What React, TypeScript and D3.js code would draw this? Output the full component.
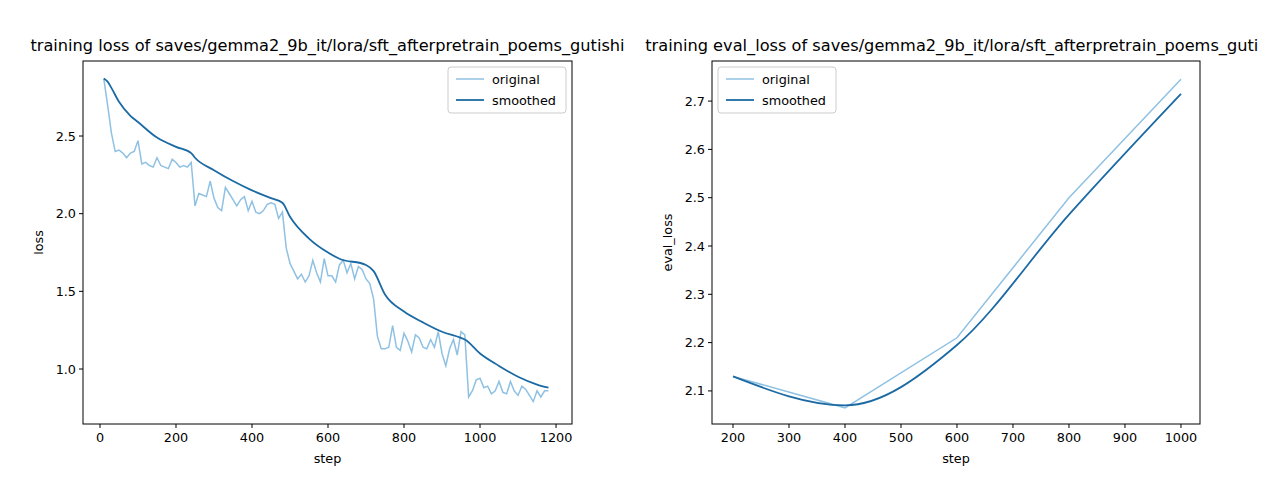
import React from 'react';
import * as d3 from 'd3';

// training loss, original (every 10 steps from 10)
const lossSteps = d3.range(10, 1181, 10);
const lossOriginal = [
  2.87, 2.70, 2.52, 2.40, 2.41, 2.39, 2.36, 2.39, 2.40, 2.47,
  2.32, 2.33, 2.31, 2.30, 2.36, 2.31, 2.30, 2.29, 2.35, 2.33,
  2.30, 2.31, 2.30, 2.33, 2.05, 2.13, 2.12, 2.11, 2.21, 2.10,
  2.04, 2.02, 2.17, 2.13, 2.09, 2.05, 2.09, 2.11, 2.02, 2.08,
  2.01, 2.00, 2.02, 2.06, 2.07, 2.06, 1.97, 2.01, 1.78, 1.68,
  1.63, 1.58, 1.61, 1.56, 1.60, 1.70, 1.62, 1.56, 1.71, 1.60,
  1.60, 1.56, 1.67, 1.70, 1.62, 1.68, 1.58, 1.66, 1.64, 1.58,
  1.55, 1.45, 1.21, 1.13, 1.13, 1.14, 1.28, 1.14, 1.12, 1.23,
  1.18, 1.11, 1.22, 1.20, 1.14, 1.13, 1.19, 1.14, 1.24, 1.10,
  1.02, 1.13, 1.19, 1.09, 1.24, 1.22, 0.82, 0.86, 0.93, 0.94,
  0.88, 0.89, 0.84, 0.86, 0.92, 0.85, 0.84, 0.92, 0.86, 0.83,
  0.89, 0.87, 0.83, 0.79, 0.86, 0.82, 0.86, 0.86,
];
const smoothSteps = [10, 20, 30, 50, 80, 100, 150, 200, 240, 250, 300, 350, 400, 450, 480, 500, 550, 600, 630, 700, 720, 750, 800, 850, 900, 950, 960, 1000, 1050, 1100, 1150, 1180];
const smoothValues = [2.87, 2.85, 2.81, 2.72, 2.63, 2.59, 2.49, 2.43, 2.39, 2.36, 2.28, 2.21, 2.15, 2.10, 2.07, 1.98, 1.84, 1.75, 1.71, 1.67, 1.63, 1.48, 1.37, 1.30, 1.24, 1.20, 1.19, 1.10, 1.02, 0.95, 0.90, 0.88];

const evalSteps = [200, 400, 600, 800, 1000];
const evalOriginal = [2.13, 2.065, 2.21, 2.50, 2.745];
const evalSmoothed = [2.13, 2.07, 2.195, 2.465, 2.715];

const leftTicksY = [1.0, 1.5, 2.0, 2.5];
const leftTicksX = [0, 200, 400, 600, 800, 1000, 1200];
const rightTicksY = [2.1, 2.2, 2.3, 2.4, 2.5, 2.6, 2.7];
const rightTicksX = [200, 300, 400, 500, 600, 700, 800, 900, 1000];

const LIGHT = '#8fc1e3';
const DARK = '#1c6aa3';
const FONT = 'DejaVu Sans, sans-serif';

type PanelProps = {
  x0: number; x1: number; y0: number; y1: number;
  xDomain: [number, number]; yDomain: [number, number];
  xTicks: number[]; yTicks: number[]; yFmt: (v: number) => string;
  title: string; ylabel: string; legendRight: boolean;
  orig: [number, number][]; smooth: [number, number][];
};

function Panel(p: PanelProps) {
  const x = d3.scaleLinear().domain(p.xDomain).range([p.x0, p.x1]);
  const y = d3.scaleLinear().domain(p.yDomain).range([p.y1, p.y0]);
  const line = d3.line<[number, number]>().x((d) => x(d[0])).y((d) => y(d[1]));
  return (
    <g fontFamily={FONT}>
      <text x={(p.x0 + p.x1) / 2} y={51} textAnchor="middle" fontSize={16.2}>{p.title}</text>
      <path d={line(p.orig) || ''} fill="none" stroke={LIGHT} strokeWidth={1.5} />
      <path d={line.curve(d3.curveMonotoneX)(p.smooth) || ''} fill="none" stroke={DARK} strokeWidth={1.8} />
      <rect x={p.x0} y={p.y0} width={p.x1 - p.x0} height={p.y1 - p.y0} fill="none" stroke="#000" strokeWidth={1} />
      {p.xTicks.map((t) => (
        <g key={t}>
          <line x1={x(t)} x2={x(t)} y1={p.y1} y2={p.y1 + 4} stroke="#000" />
          <text x={x(t)} y={p.y1 + 18} textAnchor="middle" fontSize={12.8}>{t}</text>
        </g>
      ))}
      {p.yTicks.map((t) => (
        <g key={t}>
          <line x1={p.x0 - 4} x2={p.x0} y1={y(t)} y2={y(t)} stroke="#000" />
          <text x={p.x0 - 7} y={y(t) + 4.5} textAnchor="end" fontSize={12.8}>{p.yFmt(t)}</text>
        </g>
      ))}
      <text x={(p.x0 + p.x1) / 2} y={p.y1 + 39} textAnchor="middle" fontSize={12.8}>step</text>
      <text transform={`translate(${p.x0 - 40},${(p.y0 + p.y1) / 2}) rotate(-90)`} textAnchor="middle" fontSize={12.8}>{p.ylabel}</text>
      <g transform={p.legendRight ? `translate(${p.x1 - 124},${p.y0 + 6})` : `translate(${p.x0 + 6},${p.y0 + 6})`}>
        <rect width={118} height={46} rx={3} fill="#fff" stroke="#ccc" />
        <line x1={8} x2={36} y1={12} y2={12} stroke={LIGHT} strokeWidth={1.5} />
        <text x={44} y={17} fontSize={12.8}>original</text>
        <line x1={8} x2={36} y1={33} y2={33} stroke={DARK} strokeWidth={1.8} />
        <text x={44} y={38} fontSize={12.8}>smoothed</text>
      </g>
    </g>
  );
}

export default function App() {
  const lossOrig = lossSteps.map((s, i) => [s, lossOriginal[i]] as [number, number]);
  const lossSmooth = smoothSteps.map((s, i) => [s, smoothValues[i]] as [number, number]);
  const evOrig = evalSteps.map((s, i) => [s, evalOriginal[i]] as [number, number]);
  const evSmooth = evalSteps.map((s, i) => [s, evalSmoothed[i]] as [number, number]);
  return (
    <svg width={1266} height={480} style={{ display: 'block', margin: -8 }}>
      <rect width={1266} height={480} fill="#fff" />
      <Panel x0={83} x1={572} y0={61} y1={424} xDomain={[-44.7, 1242]} yDomain={[0.646, 2.983]}
        xTicks={leftTicksX} yTicks={leftTicksY} yFmt={(v) => v.toFixed(1)} legendRight={true}
        title="training loss of saves/gemma2_9b_it/lora/sft_afterpretrain_poems_gutishi" ylabel="loss"
        orig={lossOrig} smooth={lossSmooth} />
      <Panel x0={712} x1={1200} y0={61} y1={424} xDomain={[162.5, 1034]} yDomain={[2.0315, 2.783]}
        xTicks={rightTicksX} yTicks={rightTicksY} yFmt={(v) => v.toFixed(1)} legendRight={false}
        title="training eval_loss of saves/gemma2_9b_it/lora/sft_afterpretrain_poems_gutis" ylabel="eval_loss"
        orig={evOrig} smooth={evSmooth} />
    </svg>
  );
}
